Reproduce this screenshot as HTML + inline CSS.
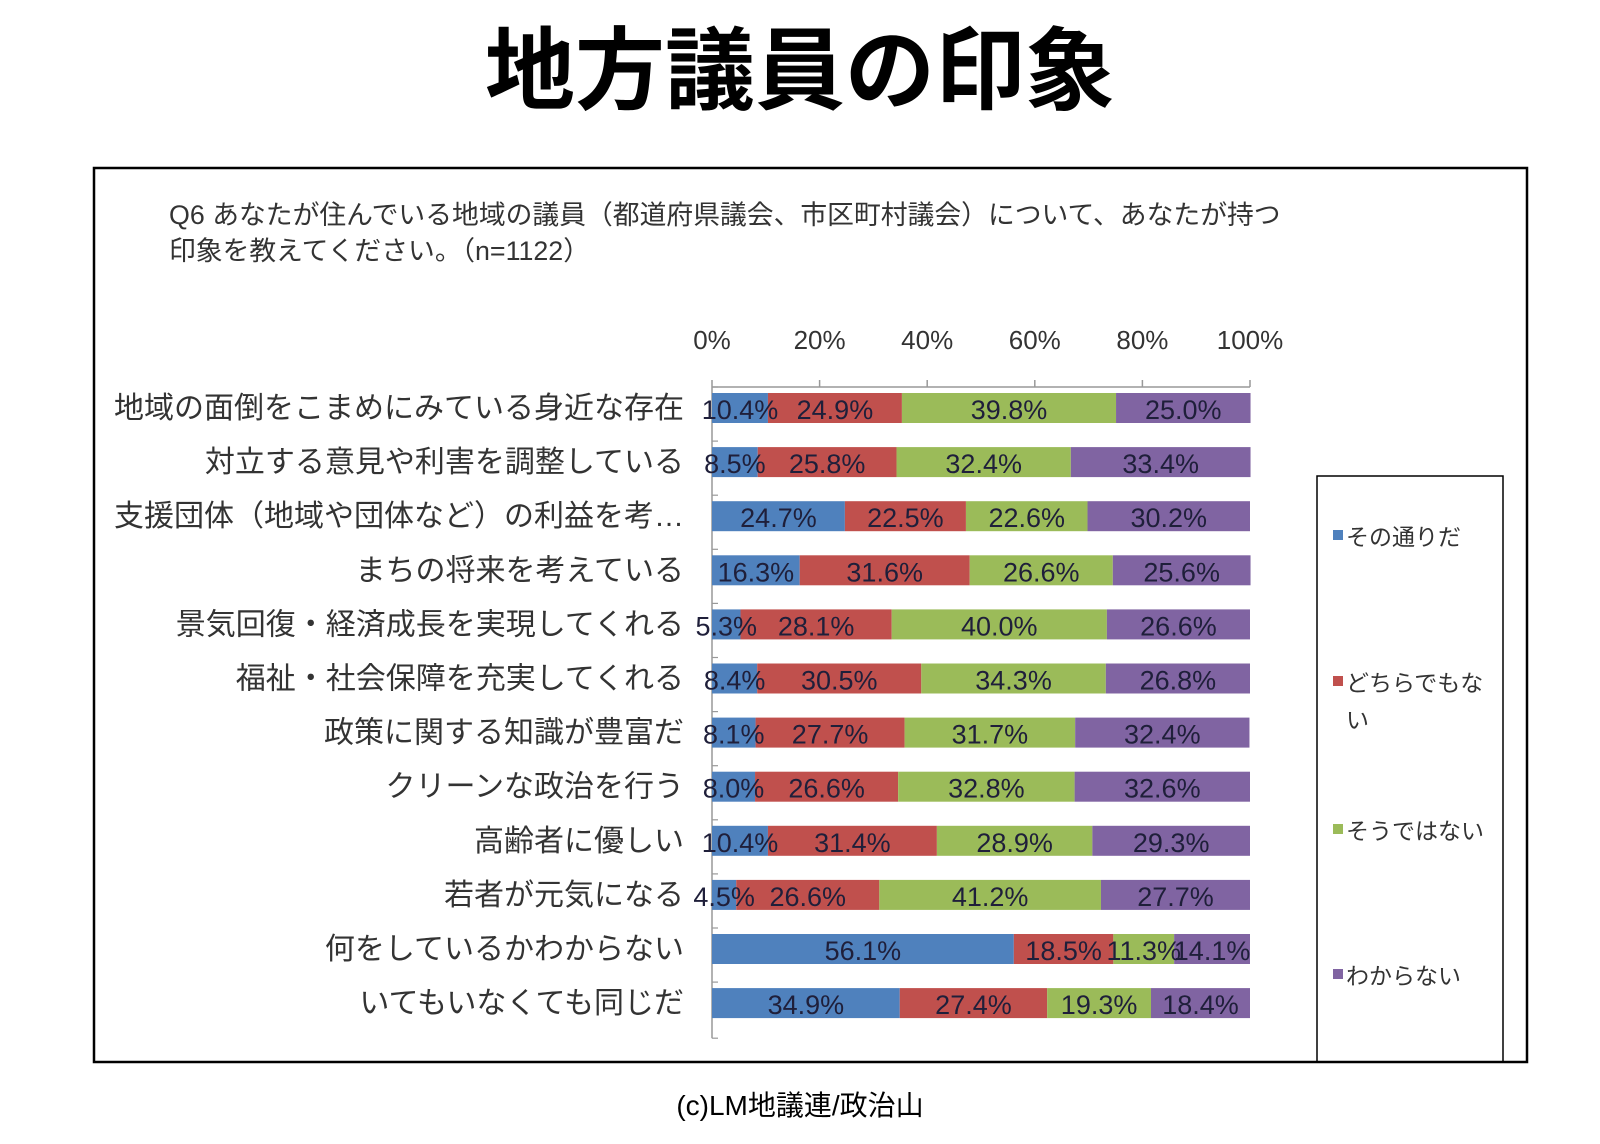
<!DOCTYPE html>
<html><head><meta charset="utf-8"><style>
body{margin:0;background:#fff;}
svg{display:block;}
text{font-family:"Liberation Sans","Noto Sans CJK JP",sans-serif;}
</style></head><body>
<svg width="1600" height="1144" viewBox="0 0 1600 1144">
<text x="800" y="102" text-anchor="middle" font-size="90" font-weight="bold" fill="#000">地方議員の印象</text>
<rect x="94" y="168" width="1433" height="894" fill="none" stroke="#000" stroke-width="2.5"/>
<text x="169" y="224" font-size="26.8" fill="#333">Q6 あなたが住んでいる地域の議員（都道府県議会、市区町村議会）について、あなたが持つ</text>
<text x="169" y="260" font-size="26.8" fill="#333">印象を教えてください。（n=1122）</text>
<g id="plot"></g>
<rect x="1317" y="476" width="186" height="586" fill="none" stroke="#000" stroke-width="1.5"/>
<g>
<rect x="1333" y="530" width="10" height="10" fill="#4f81bd"/>
<text x="1346" y="545" font-size="23" fill="#333">その通りだ</text>
<rect x="1333" y="676" width="10" height="10" fill="#c0504d"/>
<text x="1346" y="691" font-size="23" fill="#333">どちらでもな</text>
<text x="1346" y="728" font-size="23" fill="#333">い</text>
<rect x="1333" y="824" width="10" height="10" fill="#9bbb59"/>
<text x="1346" y="839" font-size="23" fill="#333">そうではない</text>
<rect x="1333" y="969" width="10" height="10" fill="#8064a2"/>
<text x="1346" y="984" font-size="23" fill="#333">わからない</text>
</g>
<text x="800" y="1115" text-anchor="middle" font-size="28" fill="#000">(c)LM地議連/政治山</text>
</svg>
<script>
const categories=["地域の面倒をこまめにみている身近な存在","対立する意見や利害を調整している","支援団体（地域や団体など）の利益を考…","まちの将来を考えている","景気回復・経済成長を実現してくれる","福祉・社会保障を充実してくれる","政策に関する知識が豊富だ","クリーンな政治を行う","高齢者に優しい","若者が元気になる","何をしているかわからない","いてもいなくても同じだ"];
const agree=[10.4,8.5,24.7,16.3,5.3,8.4,8.1,8.0,10.4,4.5,56.1,34.9];
const neutral=[24.9,25.8,22.5,31.6,28.1,30.5,27.7,26.6,31.4,26.6,18.5,27.4];
const disagree=[39.8,32.4,22.6,26.6,40.0,34.3,31.7,32.8,28.9,41.2,11.3,19.3];
const unknown=[25.0,33.4,30.2,25.6,26.6,26.8,32.4,32.6,29.3,27.7,14.1,18.4];
const tickLabels=["0%","20%","40%","60%","80%","100%"];
const tickValues=[0,20,40,60,80,100];
const NS="http://www.w3.org/2000/svg";
const g=document.getElementById('plot');
const x0=712,x1=1250,yTop=387,rowH=54.1,barH=30;
const xs=v=>x0+(x1-x0)*v/100;
const yc=i=>yTop+21+i*rowH;
function mk(tag,at){const e=document.createElementNS(NS,tag);for(const k in at)e.setAttribute(k,at[k]);g.appendChild(e);return e;}
const yBottom=yTop+categories.length*rowH+2;
let ax=mk('line',{x1:x0,y1:yTop,x2:x1,y2:yTop,stroke:'#999','stroke-width':1.5});


let ay=mk('line',{x1:x0,y1:yTop,x2:x0,y2:yBottom,stroke:'#999','stroke-width':1.5});


tickValues.forEach((v,i)=>{
  const t=mk('line',{x1:xs(v),y1:yTop-7,x2:xs(v),y2:yTop,stroke:'#999','stroke-width':1.5});
  
  
  const l=mk('text',{x:xs(v),y:yTop-38,'text-anchor':'middle','font-size':26,fill:'#333'});
  l.textContent=tickLabels[i];
  
  
});
for(let i=0;i<=categories.length;i++){
  const y=yTop+i*rowH+(i==categories.length?2:0);
  const t=mk('line',{x1:x0,y1:y,x2:x0+6,y2:y,stroke:'#999','stroke-width':1.2});
  
  
}
const series=[[agree,'#4f81bd','agree'],[neutral,'#c0504d','neutral'],[disagree,'#9bbb59','disagree'],[unknown,'#8064a2','unknown']];
categories.forEach((c,i)=>{
  const y=yc(i);
  const lab=mk('text',{x:684,y:y+10,'text-anchor':'end','font-size':30,fill:'#333'});
  lab.textContent=c;
  
  
  let acc=0;
  series.forEach(([arr,col,nm])=>{
    const v=arr[i];
    const r=mk('rect',{x:xs(acc),y:y-barH/2,width:xs(acc+v)-xs(acc),height:barH,fill:col});
    
    
    acc+=v;
  });
  acc=0;
  series.forEach(([arr,col,nm])=>{
    const v=arr[i];
    const t=mk('text',{x:(xs(acc)+xs(acc+v))/2,y:y+11,'text-anchor':'middle','font-size':27,fill:'#1f1f3a'});
    t.textContent=v.toFixed(1)+'%';
    
    
    acc+=v;
  });
});
</script>
</body></html>
